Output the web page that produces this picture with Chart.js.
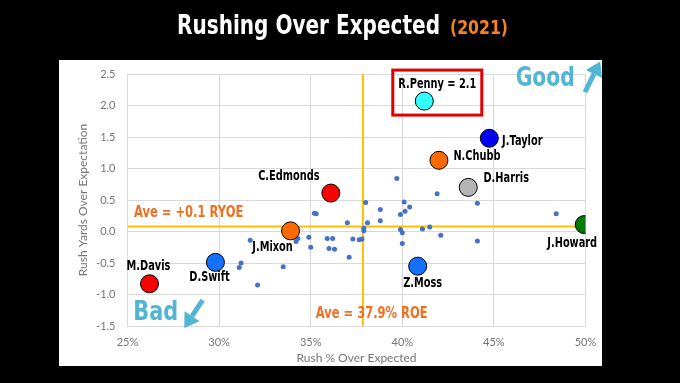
<!DOCTYPE html>
<html>
<head>
<meta charset="utf-8">
<script src="https://cdn.jsdelivr.net/npm/chart.js@4.4.0/dist/chart.umd.min.js"></script>
<style>
  html, body { margin: 0; padding: 0; background: #000; }
  #wrap { width: 680px; height: 383px; }
</style>
</head>
<body>
<div id="wrap"><canvas id="grafico" width="680" height="383"></canvas></div>
<script>
// Datos: jugadores destacados
const jugadores = ['R.Penny', 'J.Taylor', 'N.Chubb', 'D.Harris', 'C.Edmonds', 'J.Mixon', 'D.Swift', 'M.Davis', 'J.Howard', 'Z.Moss'];
const etiquetas = ['R.Penny = 2.1', 'J.Taylor', 'N.Chubb', 'D.Harris', 'C.Edmonds', 'J.Mixon', 'D.Swift', 'M.Davis', 'J.Howard', 'Z.Moss'];
const jugadoresRoe = [41.2, 44.75, 42.0, 43.6, 36.1, 33.9, 29.8, 26.2, 49.93, 40.84];
const jugadoresRyoe = [2.07, 1.48, 1.13, 0.70, 0.61, 0.01, -0.49, -0.83, 0.11, -0.55];
const coloresJugadores = ['#33FFFF', '#0000F0', '#FF6A00', '#B4B4B4', '#FF0000', '#FF6A00', '#1470FF', '#FF0000', '#007A00', '#1470FF'];

// Resto de corredores (puntos pequeños)
const restoRoe = [35.2, 35.3, 37.0, 31.7, 34.9, 34.2, 34.3, 35.9, 36.2, 39.7, 41.9, 44.1, 38.0, 40.1, 40.4, 40.15, 39.9, 38.8, 38.8, 38.1,
  37.9, 37.9, 39.9, 40.0, 41.1, 41.5, 42.1, 44.1, 37.3, 37.65, 37.8, 40.0, 31.2, 31.1, 33.5, 32.1, 35.0, 36.0, 36.3, 37.1, 48.4];
const restoRyoe = [0.29, 0.28, 0.14, -0.14, -0.09, -0.16, -0.11, -0.11, -0.11, 0.84, 0.60, 0.45, 0.46, 0.47, 0.39, 0.32, 0.27, 0.35, 0.17, 0.14,
  0.05, 0.01, 0.03, -0.02, 0.04, 0.07, -0.06, -0.15, -0.12, -0.13, -0.12, -0.19, -0.50, -0.57, -0.56, -0.85, -0.25, -0.27, -0.28, -0.41, 0.28];

// Medias
const mediaRoe = 37.85;
const mediaRyoe = 0.08;
const textoMediaRyoe = 'Ave = +0.1 RYOE';
const textoMediaRoe = 'Ave = 37.9% ROE';

// Ejes
const rangoX = [25, 50];
const rangoY = [-1.5, 2.5];
const tituloX = 'Rush % Over Expected';
const tituloY = 'Rush Yards Over Expectation';

// Desplazamiento de cada etiqueta respecto a su punto (px)
const offsetsEtiquetas = [[13, -17], [33, 3], [38, -4], [38, -9], [-42, -17], [-18, 16], [-6, 15], [-1, -17], [-12, 19], [5, 17]];

const naranja = '#F07022';
const turquesa = '#52B5D2';
const fuenteGruesa = '"DejaVu Sans", "Liberation Sans", sans-serif';

function textoEstrecho(ctx, texto, x, y, escala, align) {
    ctx.save();
    ctx.translate(x, y);
    ctx.scale(escala, 1);
    ctx.textAlign = align;
    ctx.fillText(texto, 0, 0);
    ctx.restore();
}

function flecha(ctx, x1, y1, x2, y2) {
    const ang = Math.atan2(y2 - y1, x2 - x1);
    const largo = 14, ancho = 9;
    const bx = x2 - Math.cos(ang) * largo, by = y2 - Math.sin(ang) * largo;
    ctx.beginPath();
    ctx.moveTo(x1, y1);
    ctx.lineTo(bx, by);
    ctx.lineWidth = 5;
    ctx.stroke();
    ctx.beginPath();
    ctx.moveTo(x2, y2);
    ctx.lineTo(bx + Math.sin(ang) * ancho, by - Math.cos(ang) * ancho);
    ctx.lineTo(bx - Math.sin(ang) * ancho, by + Math.cos(ang) * ancho);
    ctx.closePath();
    ctx.fill();
}

const decoracion = {
    id: 'decoracion',
    beforeDraw(chart) {
        const ctx = chart.ctx;
        ctx.save();
        ctx.fillStyle = '#000';
        ctx.fillRect(0, 0, chart.width, chart.height);
        ctx.fillStyle = '#fff';
        ctx.fillRect(59, 60, 543, 306);
        // Titulo
        ctx.textBaseline = 'alphabetic';
        ctx.font = 'bold 26px ' + fuenteGruesa;
        const t1 = 'Rushing Over Expected';
        const w1 = ctx.measureText(t1).width;
        ctx.fillStyle = '#fff';
        ctx.save();
        ctx.translate(177, 34);
        ctx.scale(263 / w1, 1);
        ctx.fillText(t1, 0, 0);
        ctx.restore();
        ctx.font = 'bold 20px ' + fuenteGruesa;
        const t2 = '(2021)';
        const w2 = ctx.measureText(t2).width;
        ctx.fillStyle = '#F5821F';
        ctx.save();
        ctx.translate(450, 34);
        ctx.scale(58 / w2, 1);
        ctx.fillText(t2, 0, 0);
        ctx.restore();
        ctx.restore();
    },
    afterDatasetsDraw(chart) {
        const ctx = chart.ctx;
        const sx = chart.scales.x, sy = chart.scales.y;
        ctx.save();
        ctx.textBaseline = 'middle';
        // Etiquetas de jugadores
        ctx.font = 'bold 14px ' + fuenteGruesa;
        ctx.fillStyle = '#000';
        etiquetas.forEach((et, i) => {
            const px = sx.getPixelForValue(jugadoresRoe[i]);
            const py = sy.getPixelForValue(jugadoresRyoe[i]);
            textoEstrecho(ctx, et, px + offsetsEtiquetas[i][0], py + offsetsEtiquetas[i][1], 0.7, 'center');
        });
        // Recuadro R.Penny
        const rx = sx.getPixelForValue(jugadoresRoe[0]);
        const ry = sy.getPixelForValue(jugadoresRyoe[0]);
        ctx.strokeStyle = '#E00000';
        ctx.lineWidth = 3;
        ctx.strokeRect(rx - 31.5, ry - 31, 89, 45);
        // Textos de medias
        ctx.font = 'bold 16px ' + fuenteGruesa;
        ctx.fillStyle = naranja;
        textoEstrecho(ctx, textoMediaRyoe, sx.getPixelForValue(25.35), sy.getPixelForValue(0.30), 0.72, 'left');
        textoEstrecho(ctx, textoMediaRoe, sx.getPixelForValue(35.27), sy.getPixelForValue(-1.31), 0.72, 'left');
        // Good / Bad
        ctx.font = 'bold 26px ' + fuenteGruesa;
        ctx.fillStyle = turquesa;
        ctx.strokeStyle = turquesa;
        textoEstrecho(ctx, 'Good', sx.getPixelForValue(46.19), sy.getPixelForValue(2.42), 0.78, 'left');
        textoEstrecho(ctx, 'Bad', sx.getPixelForValue(25.32), sy.getPixelForValue(-1.29), 0.8, 'left');
        flecha(ctx, sx.getPixelForValue(49.97), sy.getPixelForValue(2.21), sx.getPixelForValue(50.8), sy.getPixelForValue(2.7));
        flecha(ctx, sx.getPixelForValue(29.1), sy.getPixelForValue(-1.09), sx.getPixelForValue(28.1), sy.getPixelForValue(-1.53));
        ctx.restore();
    }
};

const datosJugadores = {
    label: 'Destacados',
    data: jugadores.map((j, i) => ({ x: jugadoresRoe[i], y: jugadoresRyoe[i] })),
    backgroundColor: coloresJugadores,
    borderColor: '#000',
    borderWidth: 1,
    pointRadius: 9,
    order: 0
};
const datosResto = {
    label: 'Resto',
    data: restoRoe.map((v, i) => ({ x: v, y: restoRyoe[i] })),
    backgroundColor: '#4472C4',
    borderWidth: 0,
    pointRadius: 2.5,
    order: 1
};
const lineaRoe = {
    label: 'Media ROE',
    data: [{ x: mediaRoe, y: rangoY[0] }, { x: mediaRoe, y: rangoY[1] }],
    showLine: true,
    borderColor: '#FFC000',
    borderWidth: 2,
    pointRadius: 0,
    order: 2
};
const lineaRyoe = {
    label: 'Media RYOE',
    data: [{ x: rangoX[0], y: mediaRyoe }, { x: rangoX[1], y: mediaRyoe }],
    showLine: true,
    borderColor: '#FFC000',
    borderWidth: 2,
    pointRadius: 0,
    order: 2
};

const colorTexto = '#767676';
const config = {
    type: 'scatter',
    data: { datasets: [datosJugadores, datosResto, lineaRoe, lineaRyoe] },
    options: {
        responsive: false,
        animation: false,
        layout: { padding: { left: 59, top: 74, right: 94.5, bottom: 0 } },
        plugins: {
            legend: { display: false },
            tooltip: { enabled: false }
        },
        scales: {
            x: {
                type: 'linear',
                min: rangoX[0],
                max: rangoX[1],
                afterFit: (s) => { s.height = 57; },
                grid: { color: '#D9D9D9', drawTicks: false },
                border: { color: '#D9D9D9' },
                ticks: {
                    stepSize: 5,
                    padding: 10,
                    color: colorTexto,
                    font: { family: 'Lato', size: 11 },
                    callback: (v) => v + '%'
                },
                title: {
                    display: true,
                    text: tituloX,
                    color: colorTexto,
                    font: { family: 'Lato', size: 12 },
                    padding: { top: 0, bottom: 18 }
                }
            },
            y: {
                type: 'linear',
                min: rangoY[0],
                max: rangoY[1],
                afterFit: (s) => { s.width = 68.5; },
                grid: { color: '#D9D9D9', drawTicks: false },
                border: { color: '#D9D9D9' },
                ticks: {
                    stepSize: 0.5,
                    padding: 12,
                    color: colorTexto,
                    font: { family: 'Lato', size: 11 },
                    callback: (v) => v.toFixed(1)
                },
                title: {
                    display: true,
                    text: tituloY,
                    color: colorTexto,
                    font: { family: 'Lato', size: 12 },
                    padding: { top: 17, bottom: 0 }
                }
            }
        }
    },
    plugins: [decoracion]
};

const grafico = new Chart(document.getElementById('grafico'), config);
</script>
</body>
</html>
